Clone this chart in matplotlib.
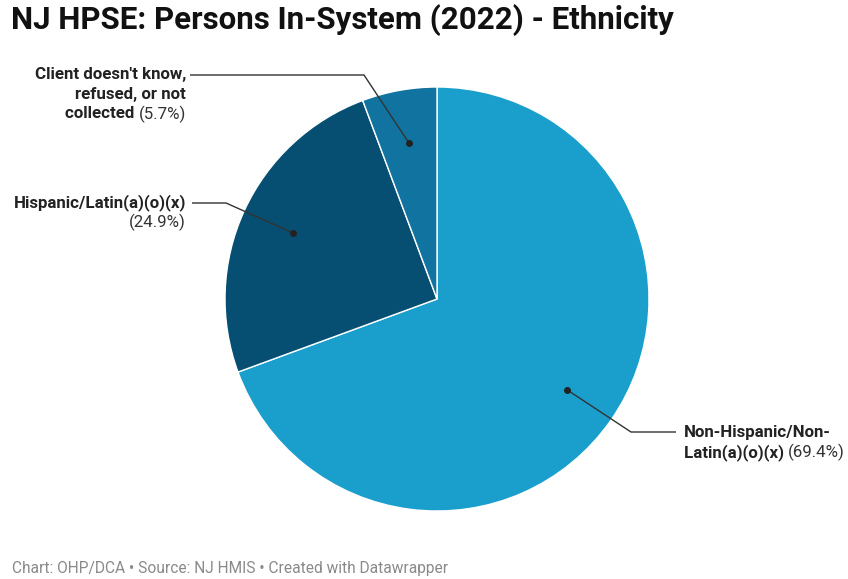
import numpy as np
import matplotlib
matplotlib.use("Agg")
import matplotlib.pyplot as plt

# Ethnicity breakdown of persons in-system (percent)
categories = ["Non-Hispanic/Non-\nLatin(a)(o)(x)", "Hispanic/Latin(a)(o)(x)",
              "Client doesn't know,\nrefused, or not\ncollected"]
shares = [69.4, 24.9, 5.7]
colors = ["#1a9fcd", "#064f72", "#11739f"]

W, H = 848, 579
fig = plt.figure(figsize=(W / 100, H / 100), dpi=100)
ax = fig.add_axes([0, 0, 1, 1])
ax.set_xlim(0, W)
ax.set_ylim(0, H)
ax.set_aspect("equal")
ax.axis("off")

FONT = "Roboto"
cx, cy, r = 437, H - 299, 212
wedges, _ = ax.pie(shares, colors=colors, startangle=90, counterclock=False,
                   center=(cx, cy), radius=r, frame=True,
                   wedgeprops=dict(edgecolor="white", linewidth=1.0))
ax.set_xlim(0, W)
ax.set_ylim(0, H)
ax.axis("off")

renderer = fig.canvas.get_renderer()


def draw_label(x, y_top, lines, ha, size=12.2, lh=19.5):
    """Draw label lines; last line gets a regular-weight percentage suffix."""
    for i, (bold, reg) in enumerate(lines):
        y = H - (y_top + i * lh)
        if ha == "right":
            xr = x
            if reg:
                t = ax.text(xr, y, reg, ha="right", va="center", fontsize=size,
                            family=FONT, color="#333333")
                bb = t.get_window_extent(renderer)
                xr -= bb.width
            ax.text(xr, y, bold, ha="right", va="center", fontsize=size,
                    family=FONT, fontweight="bold", color="#222222")
        else:
            t = ax.text(x, y, bold, ha="left", va="center", fontsize=size,
                        family=FONT, fontweight="bold", color="#222222")
            bb = t.get_window_extent(renderer)
            if reg:
                ax.text(x + bb.width, y, reg, ha="left", va="center",
                        fontsize=size, family=FONT, color="#333333")


def anchor(w, frac=0.75):
    mid = np.deg2rad((w.theta1 + w.theta2) / 2)
    return cx + frac * r * np.cos(mid), cy + frac * r * np.sin(mid)


def leader(w, elbow, end):
    ax0, ay0 = anchor(w)
    ex, ey = elbow[0], H - elbow[1]
    tx, ty = end[0], H - end[1]
    ax.plot([ax0, ex, tx], [ay0, ey, ty], color="#333333", lw=1.0,
            solid_capstyle="butt", zorder=5)
    ax.plot([ax0], [ay0], "o", color="#222222", ms=4, zorder=6)


def split_label(cat, pct):
    parts = cat.split("\n")
    rows = [(p, "") for p in parts]
    last = rows[-1][0]
    rows[-1] = (last + " ", f"({pct:.1f}%)")
    return rows


# Non-Hispanic (right side)
nh = split_label(categories[0], shares[0])
draw_label(684, 433, nh, "left")
leader(wedges[0], (631, 432), (676, 432))

# Hispanic (left side)
hi_rows = [(categories[1], ""), ("", f"({shares[1]:.1f}%)")]
draw_label(186, 203, hi_rows, "right")
leader(wedges[1], (226, 203), (192, 203))

# Unknown / refused (upper left)
un = split_label(categories[2], shares[2])
draw_label(186, 75, un, "right")
leader(wedges[2], (364, 75), (190, 75))

fig.text(11 / W, 1 - 20 / H, "NJ HPSE: Persons In-System (2022) - Ethnicity",
         ha="left", va="center", fontsize=22.5, fontweight="bold",
         family=FONT, color="#111111")
fig.text(12 / W, 1 - 569 / H,
         "Chart: OHP/DCA \u2022 Source: NJ HMIS \u2022 Created with Datawrapper",
         ha="left", va="center", fontsize=11.2, family=FONT, color="#8a8a8a")

fig.savefig("out.png", dpi=100, facecolor="white")
